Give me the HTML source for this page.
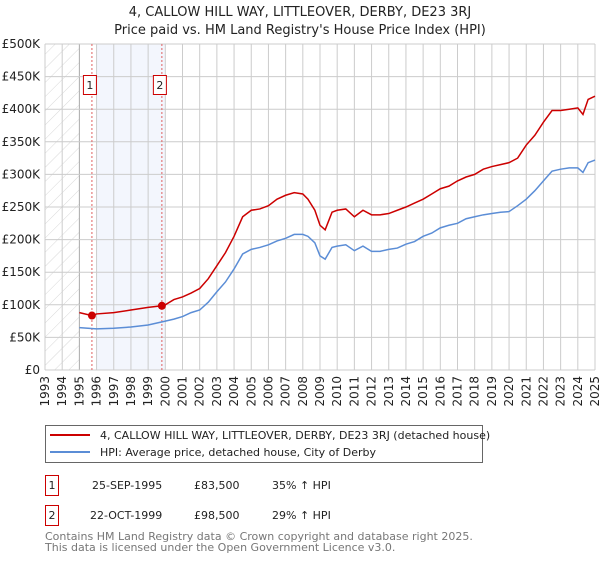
<!DOCTYPE html>
<html><head><meta charset="utf-8"><style>
body{margin:0;background:#fff;font-family:"DejaVu Sans","Liberation Sans",sans-serif;}
svg text{font-family:"DejaVu Sans","Liberation Sans",sans-serif;}
</style></head><body>
<svg id="c" width="600" height="560" xmlns="http://www.w3.org/2000/svg">
<defs><pattern id="hatch" width="10" height="10" patternUnits="userSpaceOnUse" patternTransform="rotate(45)"><line x1="0" y1="0" x2="0" y2="10" stroke="#d8d8d8" stroke-width="1"/></pattern></defs>
<text x="300" y="16" text-anchor="middle" font-size="13" fill="#222">4, CALLOW HILL WAY, LITTLEOVER, DERBY, DE23 3RJ</text>
<text x="300" y="34" text-anchor="middle" font-size="13" fill="#222">Price paid vs. HM Land Registry's House Price Index (HPI)</text>
<g id="plot"></g>
<g>
<rect x="45.5" y="425.5" width="437" height="37" fill="#fff" stroke="#666"/>
<line x1="50" y1="435" x2="90" y2="435" stroke="#cc0000" stroke-width="2"/>
<text x="100" y="439" font-size="11" fill="#222">4, CALLOW HILL WAY, LITTLEOVER, DERBY, DE23 3RJ (detached house)</text>
<line x1="50" y1="452" x2="90" y2="452" stroke="#5b8dd6" stroke-width="2"/>
<text x="100" y="456" font-size="11" fill="#222">HPI: Average price, detached house, City of Derby</text>
</g>
<g font-size="11" fill="#222">
<rect x="45.5" y="475.5" width="13" height="20" fill="#fff" stroke="#cc0000"/><text x="52" y="489" text-anchor="middle">1</text>
<text x="92" y="489">25-SEP-1995</text><text x="194" y="489">£83,500</text><text x="272" y="489">35% ↑ HPI</text>
<rect x="45.5" y="505.5" width="13" height="20" fill="#fff" stroke="#cc0000"/><text x="52" y="519" text-anchor="middle">2</text>
<text x="90" y="519">22-OCT-1999</text><text x="194" y="519">£98,500</text><text x="272" y="519">29% ↑ HPI</text>
</g>
<text x="45" y="540" font-size="11" fill="#777">Contains HM Land Registry data © Crown copyright and database right 2025.</text>
<text x="45" y="551" font-size="11" fill="#777">This data is licensed under the Open Government Licence v3.0.</text>
</svg>
<script>
const yTicks=[0,50,100,150,200,250,300,350,400,450,500];
const yTickLabels=["£0","£50K","£100K","£150K","£200K","£250K","£300K","£350K","£400K","£450K","£500K"];
const xYears=[1993,1994,1995,1996,1997,1998,1999,2000,2001,2002,2003,2004,2005,2006,2007,2008,2009,2010,2011,2012,2013,2014,2015,2016,2017,2018,2019,2020,2021,2022,2023,2024,2025];
const hpiX=[1995,1996,1997,1998,1999,2000,2000.5,2001,2001.5,2002,2002.5,2003,2003.5,2004,2004.5,2005,2005.5,2006,2006.5,2007,2007.5,2008,2008.3,2008.7,2009,2009.3,2009.7,2010,2010.5,2011,2011.5,2012,2012.5,2013,2013.5,2014,2014.5,2015,2015.5,2016,2016.5,2017,2017.5,2018,2018.5,2019,2019.5,2020,2020.5,2021,2021.5,2022,2022.5,2023,2023.5,2024,2024.3,2024.6,2025];
const hpiValues=[65,63,64,66,69,75,78,82,88,92,104,120,135,155,178,185,188,192,198,202,208,208,205,195,175,170,188,190,192,183,190,182,182,185,187,193,197,205,210,218,222,225,232,235,238,240,242,243,252,262,275,290,305,308,310,310,303,318,322];
const priceX=[1995,1995.73,1996,1997,1998,1999,1999.8,2000,2000.5,2001,2001.5,2002,2002.5,2003,2003.5,2004,2004.5,2005,2005.5,2006,2006.5,2007,2007.5,2008,2008.3,2008.7,2009,2009.3,2009.7,2010,2010.5,2011,2011.5,2012,2012.5,2013,2013.5,2014,2014.5,2015,2015.5,2016,2016.5,2017,2017.5,2018,2018.5,2019,2019.5,2020,2020.5,2021,2021.5,2022,2022.5,2023,2023.5,2024,2024.3,2024.6,2025];
const priceValues=[88,83.5,86,88,92,96,98.5,100,108,112,118,125,140,160,180,205,235,245,247,252,262,268,272,270,262,245,222,215,242,245,247,235,245,238,238,240,245,250,256,262,270,278,282,290,296,300,308,312,315,318,325,345,360,380,398,398,400,402,392,415,420];
const saleX=[1995.73,1999.8];
const saleValues=[83.5,98.5];
const saleLabels=["1","2"];

const NS="http://www.w3.org/2000/svg";
const X0=45,X1=595,Y0=370,Y1=44;
const xs=y=>X0+(y-1993)*(X1-X0)/32;
const ys=v=>Y0-v*(Y0-Y1)/500;
const g=document.getElementById('plot');
function mk(t,a){const e=document.createElementNS(NS,t);for(const k in a)e.setAttribute(k,a[k]);g.appendChild(e);return e;}
let e;
e=mk('rect',{x:xs(1993),y:Y1,width:xs(1995)-xs(1993),height:Y0-Y1,fill:'url(#hatch)'});


e=mk('rect',{x:xs(1996),y:Y1,width:xs(2000)-xs(1996),height:Y0-Y1,fill:'#f3f6fd'});


xYears.forEach(yr=>{
 e=mk('line',{x1:xs(yr),x2:xs(yr),y1:Y1,y2:Y0,stroke:yr==1995?'#aaa':'#ccc','stroke-width':1});
 
 
 const x=xs(yr)+4;
 e=mk('text',{x:x,y:376,transform:`rotate(-90 ${x} 376)`,'text-anchor':'end','font-size':12,fill:'#222'});
 e.textContent=yr;
 
 
});
yTicks.forEach((v,i)=>{
 e=mk('line',{x1:X0,x2:X1,y1:ys(v),y2:ys(v),stroke:'#ccc','stroke-width':1});
 
 
 e=mk('text',{x:40,y:ys(v)+4,'text-anchor':'end','font-size':12,fill:'#222'});
 e.textContent=yTickLabels[i];
 
 
});
saleX.forEach((sx,i)=>{
 e=mk('line',{x1:xs(sx),x2:xs(sx),y1:Y1,y2:Y0,stroke:'#e06060','stroke-width':1,'stroke-dasharray':'2,2'});
 
 
 e=mk('rect',{x:xs(sx)-8.5,y:75.5,width:13,height:19,fill:'#fff',stroke:'#cc0000'});
 
 
 e=mk('text',{x:xs(sx)-2,y:89,'text-anchor':'middle','font-size':11,fill:'#222'});
 e.textContent=saleLabels[i];
 
 
});
e=mk('polyline',{points:hpiX.map((x,i)=>xs(x)+','+ys(hpiValues[i])).join(' '),fill:'none',stroke:'#5b8dd6','stroke-width':1.5});


e=mk('polyline',{points:priceX.map((x,i)=>xs(x)+','+ys(priceValues[i])).join(' '),fill:'none',stroke:'#cc0000','stroke-width':1.5});


saleX.forEach((sx,i)=>{
 e=mk('circle',{cx:xs(sx),cy:ys(saleValues[i]),r:4,fill:'#cc0000'});
 
 
});
</script>
</body></html>
